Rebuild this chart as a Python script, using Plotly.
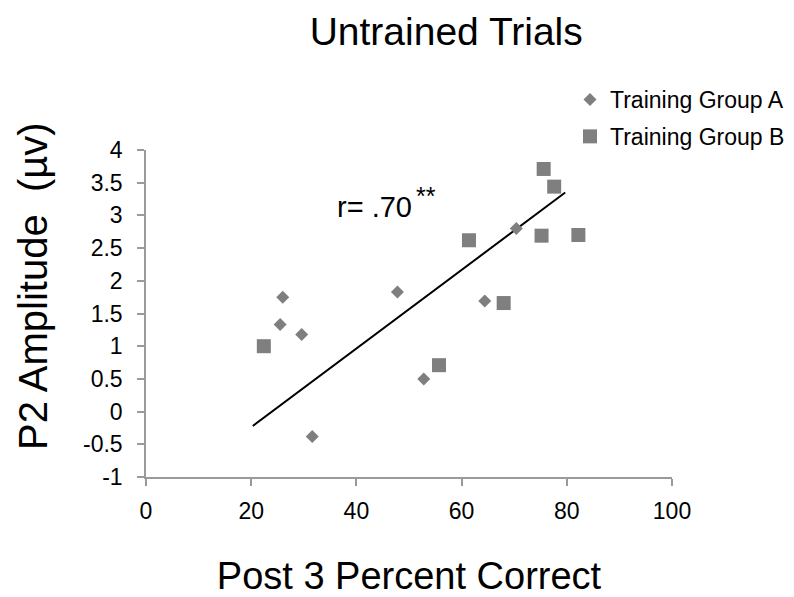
import plotly.graph_objects as go

# Training Group A: post-test percent correct vs. P2 amplitude
group_a_pct = [26.0, 25.5, 29.6, 31.6, 47.8, 52.8, 64.4, 70.4]
group_a_amp = [1.75, 1.33, 1.18, -0.38, 1.83, 0.50, 1.69, 2.80]

# Training Group B
group_b_pct = [22.4, 55.7, 61.4, 68.0, 75.6, 77.6, 75.2, 82.2]
group_b_amp = [1.00, 0.71, 2.62, 1.66, 3.71, 3.44, 2.69, 2.70]

# Trend line end points
trend_pct = [20.3, 79.7]
trend_amp = [-0.22, 3.35]

x_ticks = [0, 20, 40, 60, 80, 100]
y_ticks = [-1, -0.5, 0, 0.5, 1, 1.5, 2, 2.5, 3, 3.5, 4]
y_tick_text = ["-1", "-0.5", "0", "0.5", "1", "1.5", "2", "2.5", "3", "3.5", "4"]

FONT = "Liberation Sans, Arial, sans-serif"
MARK = "#7f7f7f"
AXIS = "#9a9a9a"

fig = go.Figure()

fig.add_trace(go.Scatter(
    x=trend_pct, y=trend_amp, mode="lines",
    line=dict(color="black", width=2), showlegend=False, hoverinfo="skip",
))
fig.add_trace(go.Scatter(
    x=group_a_pct, y=group_a_amp, mode="markers", name="Training Group A",
    legendgroup="a",
    marker=dict(symbol="diamond", size=10, color=MARK),
))
fig.add_trace(go.Scatter(
    x=group_b_pct, y=group_b_amp, mode="markers", name="Training Group B",
    legendgroup="b",
    marker=dict(symbol="square", size=14, color=MARK),
))

# correlation label with significance stars
fig.add_annotation(
    x=35.9, y=3.13, xref="x", yref="y", xanchor="left", yanchor="middle",
    text="r= .70", showarrow=False,
    font=dict(family=FONT, size=29, color="black"),
)
fig.add_annotation(
    x=50.9, y=3.30, xref="x", yref="y", xanchor="left", yanchor="middle",
    text="**", showarrow=False,
    font=dict(family=FONT, size=25, color="black"),
)

# vertical axis title
fig.add_annotation(
    x=33, xref="paper", xanchor="center", y=286, yref="paper", yanchor="middle",
    text="P2 Amplitude  (µv)", textangle=-90, showarrow=False,
    font=dict(family=FONT, size=40, color="black"),
)

fig.update_layout(
    width=794, height=597,
    margin=dict(l=146, r=122, t=150, b=120, autoexpand=False),
    paper_bgcolor="white", plot_bgcolor="white",
    font=dict(family=FONT, color="black"),
    title=dict(
        text="Untrained Trials", x=0.562, xref="container", xanchor="center",
        y=1 - 31 / 597, yref="container", yanchor="middle",
        font=dict(family=FONT, size=39, color="black"),
    ),
    legend=dict(
        x=(570 - 146) / 526, xref="paper", xanchor="left",
        y=1 + 72 / 327, yanchor="top",
        font=dict(family=FONT, size=23, color="black"),
        traceorder="grouped", tracegroupgap=4,
        bgcolor="rgba(0,0,0,0)", itemwidth=30,
    ),
    xaxis=dict(
        range=[0, 100], tickvals=x_ticks, showgrid=False, zeroline=False,
        showline=True, linecolor=AXIS, linewidth=1.5,
        ticks="outside", ticklen=7, tickcolor=AXIS, tickwidth=1.5,
        tickfont=dict(family=FONT, size=23, color="black"),
        ticklabelstandoff=6,
        title=dict(text="Post 3 Percent Correct", standoff=39,
                   font=dict(family=FONT, size=38, color="black")),
        automargin=False,
    ),
    yaxis=dict(
        range=[-1, 4], tickvals=y_ticks, ticktext=y_tick_text,
        showgrid=False, zeroline=False,
        showline=True, linecolor=AXIS, linewidth=1.5,
        ticks="outside", ticklen=7, tickcolor=AXIS, tickwidth=1.5,
        tickfont=dict(family=FONT, size=23, color="black"),
        ticklabelstandoff=10,
        automargin=False,
    ),
)

# place the vertical title in pixel terms relative to the plot area
fig.layout.annotations[-1].update(
    x=(33 - 146) / 526, y=(477 - 286) / 327,
)

fig.write_html("out.html")
